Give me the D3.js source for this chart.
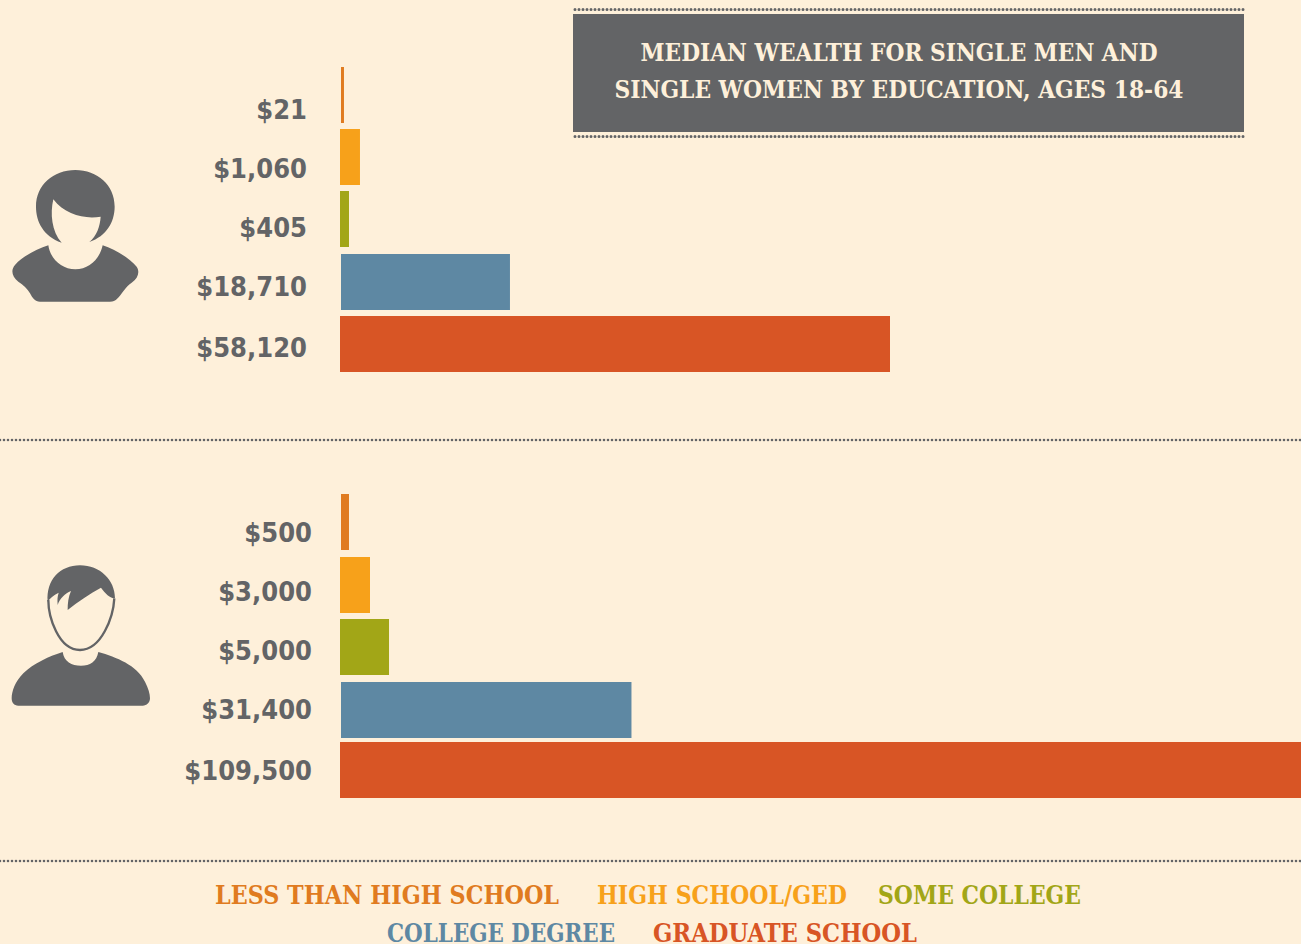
<!DOCTYPE html>
<html>
<head>
<meta charset="utf-8">
<script src="https://cdn.jsdelivr.net/npm/d3@7"></script>
<style>
  html, body { margin: 0; padding: 0; background: #fef0da; overflow: hidden; }
  svg { display: block; }
</style>
</head>
<body>
<div id="chart"></div>
<script>
// Median wealth for single women and single men, by education

const categories = ["Less than high school", "High school/GED", "Some college", "College degree", "Graduate school"];
const colors = ["#e07b20", "#f7a11a", "#a2a617", "#5e88a3", "#d85525"];

// printed labels
const womenLabels = ["$21", "$1,060", "$405", "$18,710", "$58,120"];
const menLabels = ["$500", "$3,000", "$5,000", "$31,400", "$109,500"];

// bar lengths as the picture draws them, in dollars on the shared axis
// (the original bars do not follow the printed figures exactly)
const womenBars = [420, 2110, 950, 17960, 58120];
const menBars = [950, 3170, 5180, 30800, 109500];

const titleLines = ["MEDIAN WEALTH FOR SINGLE MEN AND", "SINGLE WOMEN BY EDUCATION, AGES 18-64"];

const width = 1301;
const height = 944;
const gray = "#636466";
const serif = "'DejaVu Serif Condensed', 'DejaVu Serif', serif";

const svg = d3.select("#chart")
  .append("svg")
  .attr("width", width)
  .attr("height", height);

const x = d3.scaleLinear()
  .domain([0, 58120])
  .range([340, 890]);

// rows 1 and 4 start a pixel late in the original
const rowInset = [1, 0, 0, 1, 0];
const barHeight = 56;

function drawPanel(bars, labels, barTops, labelBases, labelX) {
  const y = d3.scaleOrdinal().domain(categories).range(barTops);
  const labelY = d3.scaleOrdinal().domain(categories).range(labelBases);

  const g = svg.append("g");

  g.selectAll("rect")
    .data(bars)
    .enter().append("rect")
    .attr("x", (d, i) => x(0) + rowInset[i])
    .attr("y", (d, i) => y(categories[i]))
    .attr("width", (d, i) => x(d) - x(0) - rowInset[i])
    .attr("height", barHeight)
    .attr("fill", (d, i) => colors[i]);

  g.selectAll("text")
    .data(labels)
    .enter().append("text")
    .attr("x", labelX)
    .attr("y", (d, i) => labelY(categories[i]))
    .attr("text-anchor", "end")
    .attr("font-family", "'DejaVu Sans', sans-serif")
    .attr("font-weight", "bold")
    .attr("font-size", 26)
    .attr("lengthAdjust", "spacingAndGlyphs")
    .attr("fill", gray)
    .text(d => d)
    .each(function() {
      // the original face is a little narrower than DejaVu Bold
      d3.select(this).attr("textLength", this.getComputedTextLength() * 0.935);
    });
}

drawPanel(womenBars, womenLabels, [67, 129, 191, 254, 316], [119, 178, 237, 296, 357], 307);
drawPanel(menBars, menLabels, [494, 557, 619, 682, 742], [542, 601, 660, 719, 780], 312);

// dotted rules
function dotted(x1, x2, yPos, w) {
  svg.append("line")
    .attr("x1", x1).attr("x2", x2)
    .attr("y1", yPos).attr("y2", yPos)
    .attr("stroke", gray)
    .attr("stroke-width", w)
    .attr("stroke-linecap", "round")
    .attr("stroke-dasharray", "0 4");
}
dotted(575, 1244, 9.5, 3);
dotted(575, 1244, 136.5, 3);
dotted(0, 1301, 440, 2.6);
dotted(0, 1301, 861, 2.6);

// title box
svg.append("rect")
  .attr("x", 573).attr("y", 14)
  .attr("width", 671).attr("height", 118)
  .attr("fill", gray);

svg.selectAll(".title")
  .data(titleLines)
  .enter().append("text")
  .attr("class", "title")
  .attr("x", 899)
  .attr("y", (d, i) => 61 + i * 37)
  .attr("text-anchor", "middle")
  .attr("font-family", serif)
  .attr("font-weight", "bold")
  .attr("font-size", 24)
  .attr("textLength", (d, i) => [517, 569][i])
  .attr("lengthAdjust", "spacingAndGlyphs")
  .attr("fill", "#fef0da")
  .text(d => d);

// legend
const legendX = [215, 597, 878, 387, 653];
const legendY = [904, 904, 904, 942, 942];
const legendW = [344, 250, 203, 228, 264];

svg.selectAll(".legend")
  .data(categories)
  .enter().append("text")
  .attr("class", "legend")
  .attr("x", (d, i) => legendX[i])
  .attr("y", (d, i) => legendY[i])
  .attr("font-family", serif)
  .attr("font-weight", "bold")
  .attr("font-size", 26)
  .attr("textLength", (d, i) => legendW[i])
  .attr("lengthAdjust", "spacingAndGlyphs")
  .attr("fill", (d, i) => colors[i])
  .text(d => d.toUpperCase());

// person icons
const woman = svg.append("g")
  .attr("transform", "translate(0,150) scale(0.3333)")
  .attr("fill", gray);
woman.append("path")
  .attr("d", "M185 278 C130 258,108 215,108 170 C108 105,160 60,226 60 C292 60,344 105,344 170 C344 215,320 258,268 276 C290 258,300 230,302 200 C255 208,195 195,160 148 C150 190,155 245,185 278 Z");
woman.append("path")
  .attr("d", "M145 286 C150 325,185 358,226 358 C268 358,300 325,308 286 C345 298,390 325,410 350 C420 365,415 385,395 398 C375 410,365 435,350 448 C345 453,340 455,330 455 L120 455 C105 455,98 445,90 430 C82 415,70 405,55 395 C35 380,32 360,45 345 C65 320,110 298,145 286 Z");

const man = svg.append("g")
  .attr("transform", "translate(0,550) scale(0.3333)")
  .attr("fill", gray);
man.append("path")
  .attr("d", "M143 155 C138 90,180 46,240 46 C300 46,345 90,345 145 C330 145,315 130,303 113 C270 130,235 155,203 180 C203 160,205 140,213 123 C195 130,180 145,173 165 C172 150,172 140,176 128 C160 135,150 145,143 155 Z");
man.append("path")
  .attr("d", "M145 150 C145 200,175 300,240 300 C305 300,340 200,343 145")
  .attr("fill", "none")
  .attr("stroke", gray)
  .attr("stroke-width", 7);
man.append("path")
  .attr("d", "M188 306 C192 335,215 347,243 347 C270 347,290 335,295 306 C350 322,410 345,435 395 C445 415,450 430,450 445 C450 458,440 467,428 467 L55 467 C42 467,35 458,35 445 C35 425,45 395,70 370 C100 340,150 318,188 306 Z");
</script>
</body>
</html>
